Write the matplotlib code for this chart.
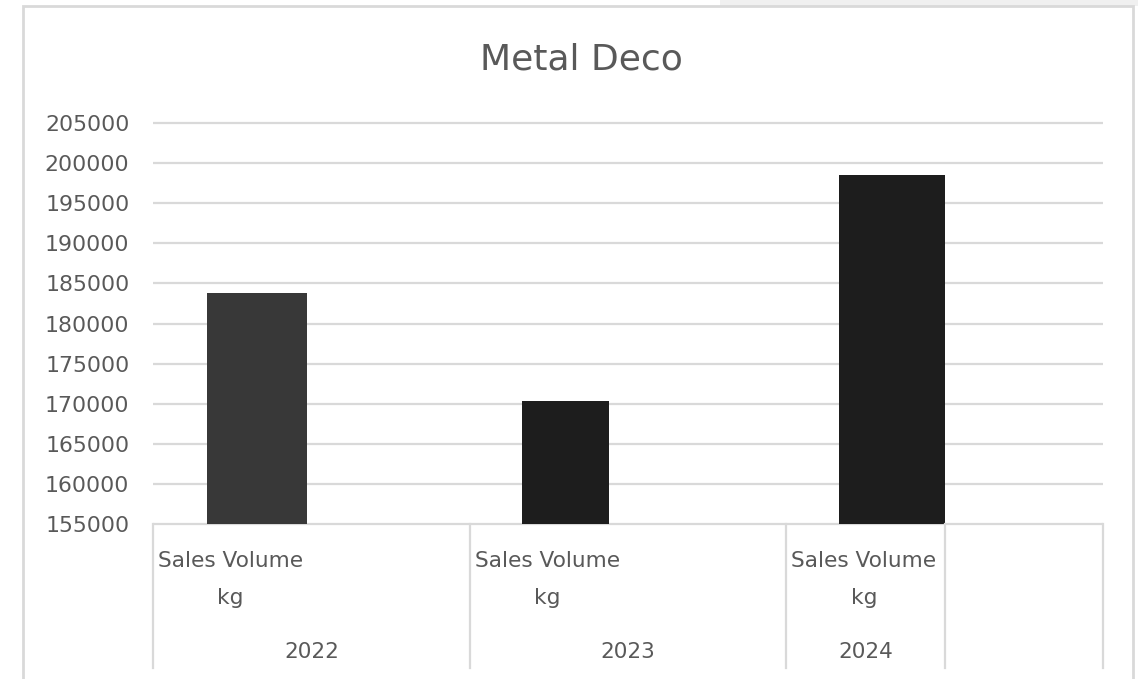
import numpy as np
import matplotlib
matplotlib.use('Agg')
import matplotlib.pyplot as plt
from matplotlib.patches import Rectangle
from matplotlib.transforms import blended_transform_factory

plt.rcParams['font.family'] = ['DejaVu Sans']

# data
title = 'Metal Deco'
years = ['2022', '2023', '2024']
series_label = ['Sales Volume', 'kg']
sales_kg = [183800, 170350, 198550]
y_ticks = list(range(155000, 205001, 5000))

# layout (odd category widths copied from the source chart)
cell_edges = [0, 2, 4, 5, 6]
bar_left = [0.34, 2.33, 4.33]
bar_width = [0.63, 0.55, 0.67]
bar_colors = ['#383838', '#1d1d1d', '#1d1d1d']
grid_c = '#d9d9d9'
text_c = '#595959'

W, H = 1138, 679
fig = plt.figure(figsize=(W / 100, H / 100), dpi=100)
fig.patch.set_facecolor('white')

# light strip at the top right of the screenshot
fig.add_artist(Rectangle((720 / W, (H - 6) / H), (W - 720) / W, 6 / H,
                         transform=fig.transFigure, facecolor='#f0f0f0',
                         edgecolor='none'))
# chart border
fig.add_artist(Rectangle((23 / W, -0.05), (1133 - 23) / W, (H - 6) / H + 0.05,
                         transform=fig.transFigure, fill=False,
                         edgecolor=grid_c, linewidth=2))

ax = fig.add_axes([153 / W, (H - 524) / H, (1103 - 153) / W, (524 - 123) / H])
ax.set_xlim(cell_edges[0], cell_edges[-1])
ax.set_ylim(y_ticks[0], y_ticks[-1])

ax.hlines(y_ticks, cell_edges[0], cell_edges[-1], color=grid_c,
          linewidth=1.6, zorder=0, clip_on=False)

ax.bar(bar_left, [v - y_ticks[0] for v in sales_kg], width=bar_width,
       bottom=y_ticks[0], align='edge', color=bar_colors, zorder=2)

for s in ax.spines.values():
    s.set_visible(False)
ax.set_xticks([])
ax.set_yticks(y_ticks)
ax.set_yticklabels([str(t) for t in y_ticks])
ax.tick_params(axis='y', length=0, pad=17, labelsize=15.8, labelcolor=text_c)

# multi-level category axis
tr = blended_transform_factory(ax.transData, ax.transAxes)
low = (524 - 668) / (524 - 123)
for e in cell_edges:
    ax.plot([e, e], [0, low], transform=tr, color=grid_c, linewidth=1.6,
            clip_on=False)

for i, yr in enumerate(years):
    left, right = cell_edges[i], cell_edges[i + 1]
    ax.text(left + 0.49, -0.092, series_label[0], transform=tr, ha='center',
            va='center', fontsize=15.6, color=text_c)
    ax.text(left + 0.49, -0.185, series_label[1], transform=tr, ha='center',
            va='center', fontsize=15.6, color=text_c)
    ax.text((left + right) / 2, -0.319, yr, transform=tr, ha='center',
            va='center', fontsize=15.6, color=text_c)

fig.text(581 / W, (H - 60) / H, title, ha='center', va='center',
         fontsize=26, color=text_c)

fig.savefig('out.png', dpi=100)
